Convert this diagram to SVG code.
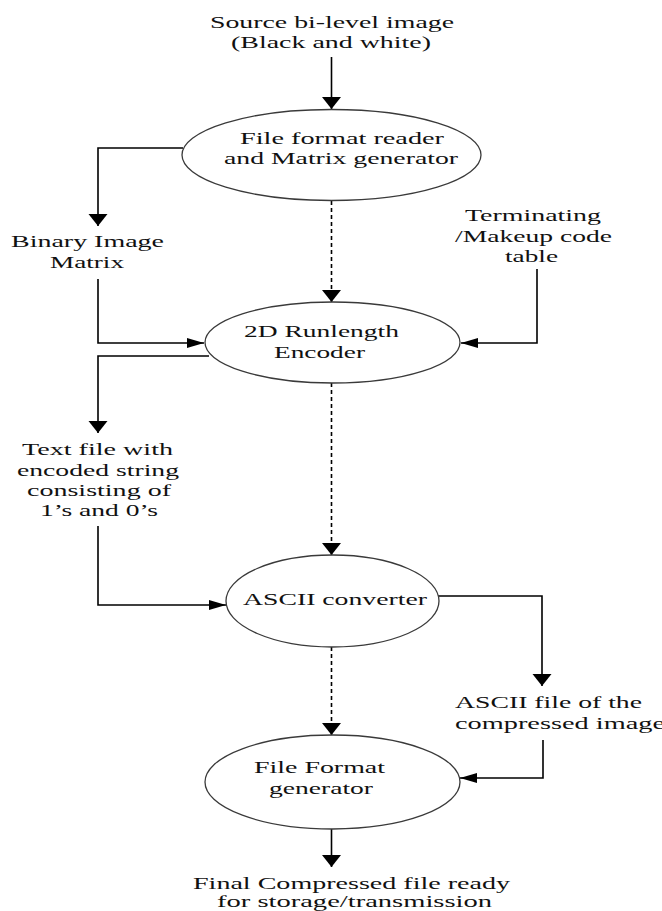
<svg xmlns="http://www.w3.org/2000/svg" width="662" height="911" viewBox="0 0 662 911">
<style>
text{font-family:"Liberation Serif","Times New Roman",serif;font-size:17.5px;fill:#111}
.sm{font-size:16px}
.n ellipse{fill:#fff;stroke:#3a3a3a;stroke-width:1.3}
.c path{fill:none;stroke:#000;stroke-width:1.6}
.c .d{stroke-dasharray:4 3}
.c .v{marker-end:url(#av)}
.c .h{marker-end:url(#ah)}
</style>
<defs>
<marker id="av" markerUnits="userSpaceOnUse" markerWidth="24" markerHeight="24" viewBox="-14 -12 16 24" refX="0" refY="0" orient="auto"><path d="M-12,-9.5 L0,0 L-12,9.5 Z" fill="#000"/></marker>
<marker id="ah" markerUnits="userSpaceOnUse" markerWidth="24" markerHeight="24" viewBox="-20 -12 22 24" refX="0" refY="0" orient="auto"><path d="M-17,-5 L0,0 L-17,5 Z" fill="#000"/></marker>
</defs>
<g id="connectors" class="c">
<path class="v" d="M331.5,57 V109"/>
<path class="v" d="M183,148 H98 V226"/>
<path class="v d" d="M331.5,201 V302"/>
<path class="h" d="M98,279 V343 H204"/>
<path class="h" d="M537,269 V343 H461"/>
<path class="v" d="M209,356 H98 V433"/>
<path class="h" d="M98,526 V605 H226"/>
<path class="v d" d="M331.5,383 V555"/>
<path class="v" d="M438,596 H542 V686"/>
<path class="h" d="M543,740 V778 H460"/>
<path class="v d" d="M331.5,647 V735"/>
<path class="v" d="M331.5,829 V867"/>
</g>
<g id="source-label">
<text x="210" y="28" textLength="244" lengthAdjust="spacingAndGlyphs">Source bi-level image</text>
<text x="231" y="48" textLength="200" lengthAdjust="spacingAndGlyphs">(Black and white)</text>
</g>
<g id="file-format-reader" class="n">
<ellipse cx="331.5" cy="155" rx="149.5" ry="45.5"/>
<text x="240" y="144" textLength="204" lengthAdjust="spacingAndGlyphs">File format reader</text>
<text x="224" y="164" textLength="234" lengthAdjust="spacingAndGlyphs">and Matrix generator</text>
</g>
<g id="binary-image-matrix">
<text x="11" y="247" textLength="153" lengthAdjust="spacingAndGlyphs">Binary Image</text>
<text x="50" y="268" textLength="74" lengthAdjust="spacingAndGlyphs">Matrix</text>
</g>
<g id="code-table">
<text x="465" y="221" textLength="136" lengthAdjust="spacingAndGlyphs">Terminating</text>
<text x="455" y="242" textLength="157" lengthAdjust="spacingAndGlyphs">/Makeup code</text>
<text x="505" y="262" textLength="53" lengthAdjust="spacingAndGlyphs">table</text>
</g>
<g id="runlength-encoder" class="n">
<ellipse cx="332.5" cy="342.5" rx="127.5" ry="40.5"/>
<text x="244" y="337" textLength="155" lengthAdjust="spacingAndGlyphs">2D Runlength</text>
<text x="274" y="358" textLength="91" lengthAdjust="spacingAndGlyphs">Encoder</text>
</g>
<g id="text-file">
<text x="22" y="455" textLength="151" lengthAdjust="spacingAndGlyphs">Text file with</text>
<text x="17" y="476" textLength="162" lengthAdjust="spacingAndGlyphs">encoded string</text>
<text x="27" y="496" textLength="144" lengthAdjust="spacingAndGlyphs">consisting of</text>
<text x="40" y="516" textLength="118" lengthAdjust="spacingAndGlyphs">1’s and 0’s</text>
</g>
<g id="ascii-converter" class="n">
<ellipse cx="332.5" cy="601" rx="106.5" ry="46"/>
<text x="243" y="605" textLength="184" lengthAdjust="spacingAndGlyphs">ASCII converter</text>
</g>
<g id="ascii-file">
<text x="455" y="708" textLength="187" lengthAdjust="spacingAndGlyphs">ASCII file of the</text>
<text x="455" y="729" textLength="210" lengthAdjust="spacingAndGlyphs">compressed image</text>
</g>
<g id="file-format-generator" class="n">
<ellipse cx="332.5" cy="782" rx="127.5" ry="47"/>
<text x="254" y="773" textLength="131" lengthAdjust="spacingAndGlyphs">File Format</text>
<text x="269" y="794" textLength="104" lengthAdjust="spacingAndGlyphs">generator</text>
</g>
<g id="final-label">
<text class="sm" x="193" y="889" textLength="317" lengthAdjust="spacingAndGlyphs">Final Compressed file ready</text>
<text class="sm" x="217" y="907" textLength="275" lengthAdjust="spacingAndGlyphs">for storage/transmission</text>
</g>
</svg>
